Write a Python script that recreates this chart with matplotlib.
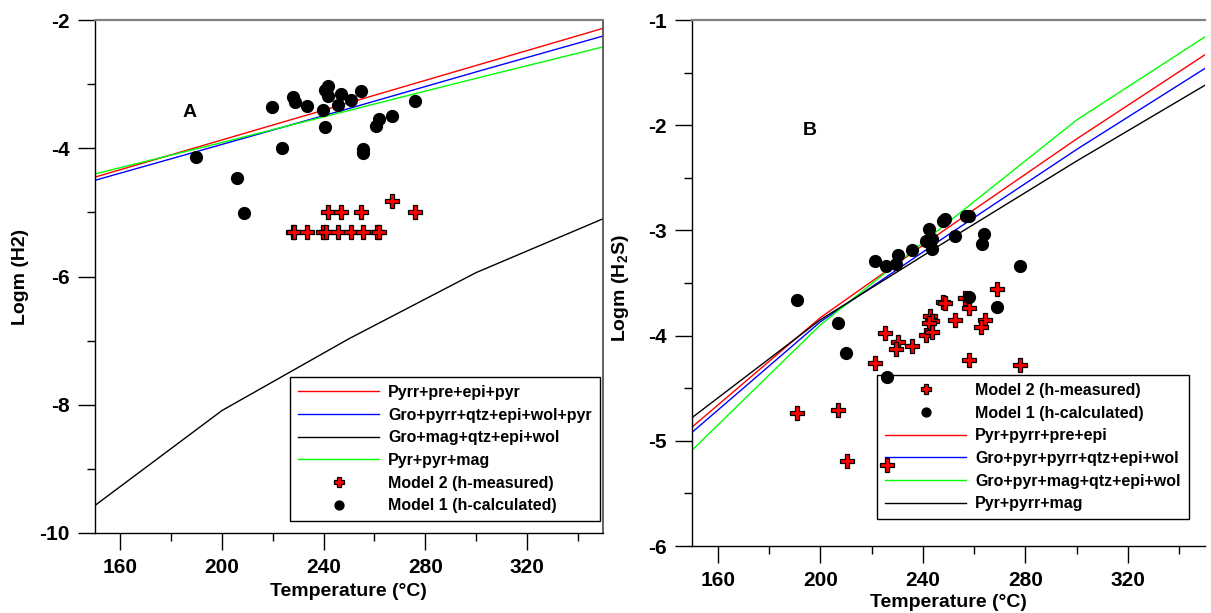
import matplotlib
matplotlib.use("Agg")
import matplotlib.pyplot as plt
from matplotlib.ticker import MultipleLocator

plt.rcParams['font.family'] = ['Liberation Sans', 'DejaVu Sans']
plt.rcParams['font.weight'] = 'bold'
plt.rcParams['axes.unicode_minus'] = False
plt.rcParams['mathtext.fontset'] = 'custom'
plt.rcParams['mathtext.rm'] = 'Liberation Sans:bold'
plt.rcParams['mathtext.bf'] = 'Liberation Sans:bold'
plt.rcParams['mathtext.default'] = 'bf'

# ---------------- Panel A data ----------------
line_T = [150, 200, 250, 300, 350]
A_red = [-4.45, -3.87, -3.29, -2.71, -2.13]      # Pyrr+pre+epi+pyr
A_blue = [-4.50, -3.94, -3.38, -2.81, -2.25]     # Gro+pyrr+qtz+epi+wol+pyr
A_black = [-9.57, -8.09, -6.97, -5.94, -5.10]    # Gro+mag+qtz+epi+wol
A_green = [-4.40, -3.91, -3.41, -2.91, -2.42]    # Pyr+pyr+mag

A_m2_T = [241.7, 246.7, 254.7, 275.9, 266.8, 227.8, 228.3, 233.6, 239.8, 241.0,
          245.8, 250.8, 255.6, 260.9, 261.7]
A_m2_v = [-5.0, -5.0, -5.0, -5.0, -4.83, -5.3, -5.3, -5.3, -5.3, -5.3,
          -5.3, -5.3, -5.3, -5.3, -5.3]
A_m1_T = [189.6, 205.8, 208.8, 219.8, 223.7, 227.8, 228.7, 233.6, 239.8, 240.7,
          240.7, 241.9, 241.9, 245.8, 246.7, 250.8, 254.7, 255.6, 255.6, 260.8,
          261.7, 266.8, 275.9]
A_m1_v = [-4.14, -4.47, -5.01, -3.36, -4.00, -3.20, -3.28, -3.34, -3.40, -3.67,
          -3.09, -3.03, -3.19, -3.32, -3.16, -3.24, -3.10, -4.01, -4.08, -3.66,
          -3.55, -3.50, -3.26]

# ---------------- Panel B data ----------------
B_red = [-4.87, -3.83, -2.97, -2.13, -1.33]      # Pyr+pyrr+pre+epi
B_blue = [-4.92, -3.87, -3.04, -2.23, -1.46]     # Gro+pyr+pyrr+qtz+epi+wol
B_green = [-5.09, -3.90, -2.92, -1.95, -1.16]    # Gro+pyr+mag+qtz+epi+wol
B_black = [-4.78, -3.85, -3.09, -2.34, -1.62]    # Pyr+pyrr+mag

B_m2_T = [269.1, 247.9, 248.6, 256.6, 257.9, 242.7, 243.7, 242.4, 252.7, 264.1,
          262.8, 225.2, 241.4, 243.6, 230.4, 229.4, 235.6, 221.3, 257.9, 278.0,
          190.8, 207.0, 210.3, 226.1]
B_m2_v = [-3.56, -3.68, -3.69, -3.64, -3.74, -3.81, -3.86, -3.88, -3.85, -3.85,
          -3.92, -3.98, -3.99, -3.97, -4.06, -4.13, -4.10, -4.26, -4.23, -4.28,
          -4.74, -4.71, -5.19, -5.23]
B_m1_T = [190.9, 207.0, 221.3, 225.5, 229.5, 230.4, 235.6, 242.5, 241.4, 243.4,
          243.6, 247.9, 248.8, 252.7, 257.0, 257.9, 262.9, 263.8, 277.8, 257.9,
          268.9, 210.1, 226.0]
B_m1_v = [-3.66, -3.88, -3.29, -3.34, -3.32, -3.23, -3.19, -2.99, -3.10, -3.08,
          -3.18, -2.91, -2.89, -3.05, -2.86, -2.86, -3.13, -3.03, -3.34, -3.63,
          -3.73, -4.17, -4.39]

W, H = 1211, 613
fig = plt.figure(figsize=(W / 100, H / 100), dpi=100)


def box(l, r, t, b):
    return [l / W, 1 - b / H, (r - l) / W, (b - t) / H]


axA = fig.add_axes(box(95, 603, 20, 533))
axB = fig.add_axes(box(692, 1205, 20, 546))

lw = 1.0
m2_kw = dict(linestyle='none', marker='P', markersize=9.5, markerfacecolor='#ff0000',
             markeredgecolor='black', markeredgewidth=0.9, zorder=6)
m1_kw = dict(linestyle='none', marker='o', markersize=8.5, markerfacecolor='black',
             markeredgecolor='black', zorder=6)

# Panel A
axA.plot(line_T, A_red, color='#ff0000', lw=lw, label='Pyrr+pre+epi+pyr', zorder=2)
axA.plot(line_T, A_blue, color='#0000ff', lw=lw, label='Gro+pyrr+qtz+epi+wol+pyr', zorder=2)
axA.plot(line_T, A_black, color='black', lw=lw, label='Gro+mag+qtz+epi+wol', zorder=2)
axA.plot(line_T, A_green, color='#00ff00', lw=lw, label='Pyr+pyr+mag', zorder=2)
axA.plot(A_m2_T, A_m2_v, label='Model 2 (h-measured)', **m2_kw)
axA.plot(A_m1_T, A_m1_v, label='Model 1 (h-calculated)', **m1_kw)

# Panel B
axB.plot(B_m2_T, B_m2_v, label='Model 2 (h-measured)', **m2_kw)
axB.plot(B_m1_T, B_m1_v, label='Model 1 (h-calculated)', **m1_kw)
axB.plot(line_T, B_red, color='#ff0000', lw=lw, label='Pyr+pyrr+pre+epi', zorder=2)
axB.plot(line_T, B_blue, color='#0000ff', lw=lw, label='Gro+pyr+pyrr+qtz+epi+wol', zorder=2)
axB.plot(line_T, B_green, color='#00ff00', lw=lw, label='Gro+pyr+mag+qtz+epi+wol', zorder=2)
axB.plot(line_T, B_black, color='black', lw=lw, label='Pyr+pyrr+mag', zorder=2)

for ax in (axA, axB):
    ax.set_xlim(150, 350)
    ax.set_xticks([160, 200, 240, 280, 320])
    ax.set_xticks([180, 220, 260, 300, 340], minor=True)
    ax.tick_params(which='major', direction='out', length=12, width=1, labelsize=15, pad=6)
    ax.tick_params(which='minor', direction='out', length=6, width=1)
    ax.tick_params(top=False, right=False)
    for s in ('left', 'bottom'):
        ax.spines[s].set_color('black')
        ax.spines[s].set_linewidth(1)
    ax.spines['top'].set_color('#808080')
    ax.spines['top'].set_linewidth(1.6)

axA.set_ylim(-10, -2)
axA.yaxis.set_major_locator(MultipleLocator(2))
axA.yaxis.set_minor_locator(MultipleLocator(1))
axA.spines['right'].set_color('#555555')
axA.spines['right'].set_linewidth(1.3)

axB.set_ylim(-6, -1)
axB.yaxis.set_major_locator(MultipleLocator(1))
axB.yaxis.set_minor_locator(MultipleLocator(0.5))
axB.spines['right'].set_visible(False)

for ax in (axA, axB):
    for lab in ax.get_xticklabels() + ax.get_yticklabels():
        lab.set_fontweight('bold')

axA.set_xlabel('Temperature (°C)', fontsize=14, fontweight='bold')
axB.set_xlabel('Temperature (°C)', fontsize=14, fontweight='bold')
axA.set_ylabel('Logm (H2)', fontsize=14, fontweight='bold')
axB.set_ylabel('Logm (H$_2$S)', fontsize=14, fontweight='bold')
axA.xaxis.set_label_coords(0.498, -0.097)
axB.xaxis.set_label_coords(0.50, -0.092)
axA.yaxis.set_label_coords(-0.13, 0.5)
axB.yaxis.set_label_coords(-0.118, 0.49)

axA.text(0.187, 0.819, 'A', transform=axA.transAxes, fontsize=14, fontweight='bold',
         ha='center', va='center')
axB.text(0.23, 0.789, 'B', transform=axB.transAxes, fontsize=14, fontweight='bold',
         ha='center', va='center')

leg_kw = dict(frameon=True, fancybox=False, framealpha=1, edgecolor='black',
              borderaxespad=0, handlelength=5.1, handletextpad=0.55, labelspacing=0.48,
              borderpad=0.5, markerscale=0.75, numpoints=1,
              prop={'weight': 'bold', 'size': 11.5})

lgA = axA.legend(loc='upper left',
                 bbox_to_anchor=((290 - 95) / 508, 1 - (377 - 20) / 513), **leg_kw)
lgA.get_frame().set_linewidth(1.0)
lgA.set_zorder(3)

lgB = axB.legend(loc='upper left',
                 bbox_to_anchor=((877 - 692) / 513, 1 - (375 - 20) / 526), **leg_kw)
lgB.get_frame().set_linewidth(1.0)
lgB.set_zorder(3)

fig.savefig('out.png', dpi=100)
